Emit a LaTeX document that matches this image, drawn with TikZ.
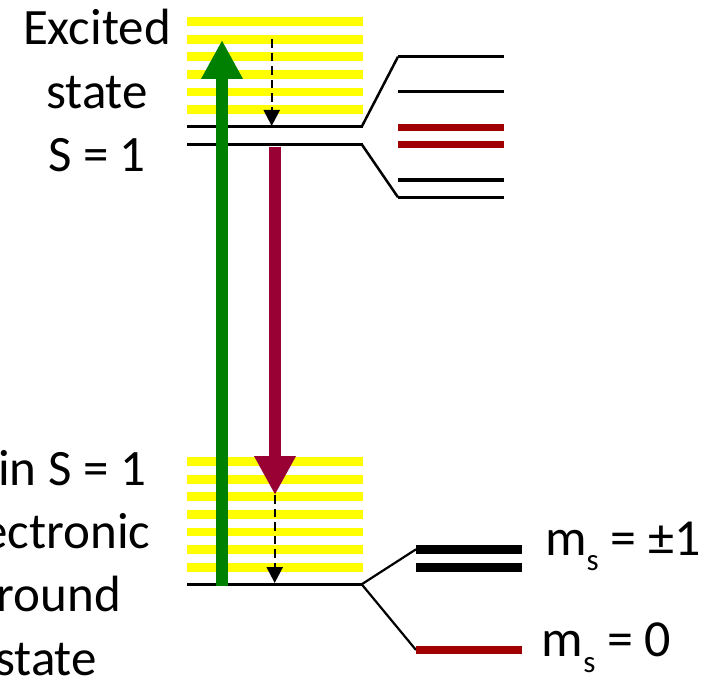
\documentclass[tikz,border=0pt]{standalone}
\usepackage{fontspec}
\setmainfont{Carlito}
\usetikzlibrary{arrows.meta}
\definecolor{ylw}{HTML}{FFFF00}
\definecolor{grn}{HTML}{008000}
\definecolor{crim}{HTML}{990033}
\definecolor{dred}{HTML}{A00000}
\begin{document}
\begin{tikzpicture}[x=1pt,y=-1pt,
  lbl/.style={font=\fontsize{51}{60}\selectfont, anchor=base, inner sep=0pt},
  rlbl/.style={font=\fontsize{52}{60}\selectfont, anchor=base west, inner sep=0pt},
  level/.style={line width=3pt},
  slant/.style={line width=2.5pt},
  bar/.style={fill=ylw},
  dasharrow/.style={line width=2.4pt, dash pattern=on 8.5pt off 5pt, -{Triangle[width=16pt,length=16pt]}},
  bigarrow/.style={line width=12.7pt, -{Triangle[width=39pt,length=39pt]}}]
\useasboundingbox (0,0) rectangle (707,679);
\clip (0,0) rectangle (707,679);

% yellow vibrational bands
\foreach \y in {21.5,39.3,56.7,74.3,92,109.5}
  \fill[bar] (187,\y-4.3) rectangle (363,\y+4.3);
\foreach \y in {461.5,479.3,496.7,514.3,532,549.5,567.3}
  \fill[bar] (187,\y-4.3) rectangle (363,\y+4.3);

% excited state levels
\coordinate (e1l) at (187,126.7);
\coordinate (e1r) at (362.7,126.7);
\coordinate (e2l) at (187,144.3);
\coordinate (e2r) at (362.7,144.3);
\draw[level] (e1l) -- (e1r);
\draw[level] (e2l) -- (e2r);

% excited splitting
\coordinate (t1l) at (398,56.7);  \coordinate (t1r) at (504,56.7);
\coordinate (t2l) at (398,91.7);  \coordinate (t2r) at (504,91.7);
\coordinate (t3l) at (398,127.3); \coordinate (t3r) at (504,127.3);
\coordinate (t4l) at (398,144.3); \coordinate (t4r) at (504,144.3);
\coordinate (t5l) at (398,180);   \coordinate (t5r) at (504,180);
\coordinate (t6l) at (398,197.3); \coordinate (t6r) at (504,197.3);
\draw[slant] ([xshift=-1pt]e1r) -- (t1l);
\draw[slant] ([xshift=-1pt]e2r) -- (t6l);
\draw[line width=3.3pt] (t1l) -- (t1r);
\draw[line width=3.3pt] (t2l) -- (t2r);
\draw[line width=6.7pt, dred] (t3l) -- (t3r);
\draw[line width=6.7pt, dred] (t4l) -- (t4r);
\draw[line width=3.3pt] (t5l) -- (t5r);
\draw[line width=3.3pt] (t6l) -- (t6r);

% ground state level
\coordinate (gl) at (187,584.3);
\coordinate (gr) at (362.7,584.3);
\draw[level] (gl) -- (gr);
\coordinate (g1l) at (416,549.3); \coordinate (g1r) at (521.7,549.3);
\coordinate (g2l) at (416,567.3); \coordinate (g2r) at (521.7,567.3);
\coordinate (g3l) at (416,650);   \coordinate (g3r) at (521.7,650);
\draw[line width=2.2pt] ([xshift=-1pt]gr) -- (g1l);
\draw[line width=2.2pt] ([xshift=-1pt]gr) -- (g3l);
\draw[line width=8.7pt] (g1l) -- (g1r);
\draw[line width=8.7pt] (g2l) -- (g2r);
\draw[line width=8.7pt, dred] (g3l) -- (g3r);

% arrows
\coordinate (gA) at (222,586);
\coordinate (gB) at (222,40);
\draw[bigarrow, grn] (gA) -- (gB);
\coordinate (rA) at (275,146.7);
\coordinate (rB) at (275,495);
\draw[bigarrow, crim] (rA) -- (rB);
\coordinate (d1A) at (271.7,39.3);
\coordinate (d1B) at (271.7,126);
\draw[dasharrow] (d1A) -- (d1B);
\coordinate (d2A) at (274.7,495);
\coordinate (d2B) at (274.7,583);
\draw[dasharrow] (d2A) -- (d2B);

% labels
\node[lbl] (ex1) at (97,45) {Excited};
\node[lbl] (ex2) at (97,108.3) {state};
\node[lbl] (ex3) at (97,171.7) {S = 1};
\node[lbl] (gs1) at (47,485) {Spin S = 1};
\node[lbl] (gs2) at (48,548) {electronic};
\node[lbl] (gs3) at (47,611.7) {ground};
\node[lbl] (gs4) at (46,675) {state};
\node[rlbl] (ms1) at (545,555) {m\raisebox{-0.3em}{\fontsize{31}{31}\selectfont s} = ±1};
\node[rlbl] (ms0) at (541.7,656.7) {m\raisebox{-0.3em}{\fontsize{31}{31}\selectfont s} = 0};
\end{tikzpicture}
\end{document}
